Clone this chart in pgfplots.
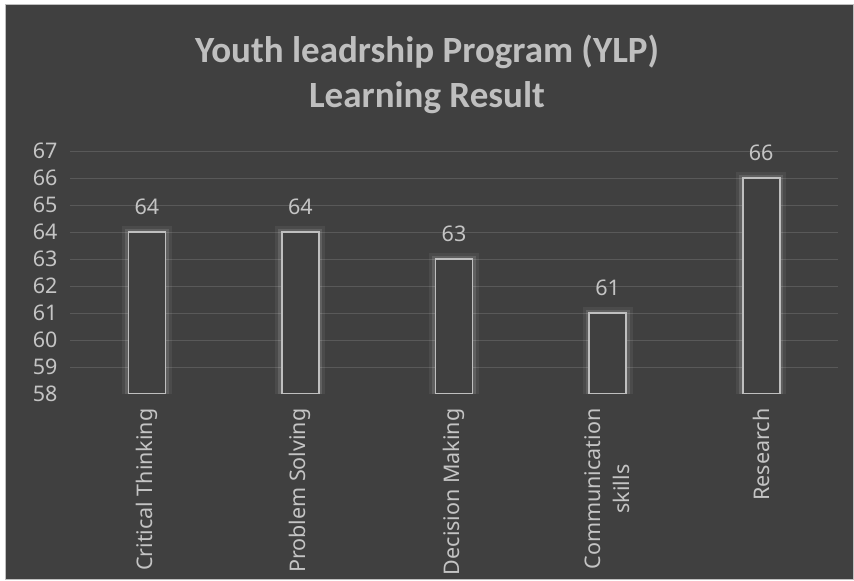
\documentclass[border=0pt]{standalone}
\usepackage{pgfplots}
\pgfplotsset{compat=1.18}
\usepackage{fontspec}
\setmainfont{Carlito}
\newfontfamily\lab{Noto Sans}
\definecolor{bg}{HTML}{404040}
\definecolor{gridc}{HTML}{595959}
\definecolor{txt}{HTML}{C4C4C4}
\definecolor{bar}{HTML}{BFBFBF}
\begin{document}
\begin{tikzpicture}
\fill[white] (0,0) rectangle (854pt,580pt);
\fill[bg, draw=black!25, line width=1pt] (5pt,0pt) rectangle (853pt,575pt);
\node[font=\fontsize{37}{45}\selectfont\bfseries, text=bar, align=center] at (427pt,506pt) {Youth leadrship Program (YLP)\\Learning Result};
\begin{axis}[at={(70pt,186pt)}, anchor=south west, width=768pt, height=243pt, scale only axis,
  xmin=-0.5, xmax=4.5, ymin=58, ymax=67,
  ytick={59,...,67}, extra y ticks={58}, extra y tick style={grid=none},
  ymajorgrids, grid style={draw=gridc, line width=0.9pt},
  axis line style={draw=none}, major tick length=0pt,
  /pgf/number format/assume math mode=true,
  yticklabel style={font=\lab\fontsize{21.5}{24}\selectfont, text=txt, anchor=east, xshift=-9pt},
  xtick={0,...,4},
  xticklabels={Critical Thinking, Problem Solving, Decision Making, {Communication\\skills}, Research},
  xticklabel style={font=\lab\fontsize{21.5}{29}\selectfont, text=txt, yshift=-11pt, rotate=90, anchor=east, align=center},
  ybar, bar shift=0pt, bar width=37pt,
  nodes near coords, nodes near coords style={font=\lab\fontsize{21.5}{24}\selectfont, text=txt, yshift=13pt},
]
\addplot[draw=white, draw opacity=0.06, line width=13pt, fill=none, nodes near coords=] coordinates {(0,64) (1,64) (2,63) (3,61) (4,66)};
\addplot[draw=white, draw opacity=0.12, line width=7pt, fill=none, nodes near coords=] coordinates {(0,64) (1,64) (2,63) (3,61) (4,66)};
\addplot[draw=bar, line width=1.6pt, fill=bg] coordinates {(0,64) (1,64) (2,63) (3,61) (4,66)};
\end{axis}
\end{tikzpicture}
\end{document}
